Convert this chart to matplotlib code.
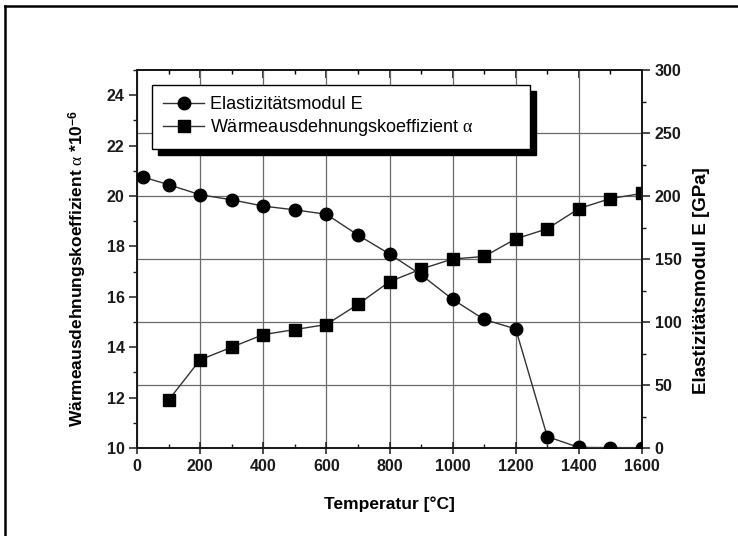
import matplotlib
matplotlib.use("Agg")
import matplotlib.pyplot as plt
from matplotlib.lines import Line2D
from matplotlib.ticker import MultipleLocator
import matplotlib.transforms as mtransforms

# ---- data ----
temp_E = [20, 100, 200, 300, 400, 500, 600, 700, 800, 900, 1000, 1100, 1200, 1300, 1400, 1500, 1600]
E_mod = [215, 209, 201, 197, 192, 189, 185.5, 169, 154, 137.5, 118, 102, 94.5, 9, 0.5, 0.3, 0.3]

temp_a = [100, 200, 300, 400, 500, 600, 700, 800, 900, 1000, 1100, 1200, 1300, 1400, 1500, 1600]
alpha = [11.9, 13.5, 14.0, 14.5, 14.7, 14.9, 15.7, 16.6, 17.1, 17.5, 17.6, 18.3, 18.7, 19.5, 19.9, 20.1]

label_E = "Elastizitätsmodul E"
label_a = r"Wärmeausdehnungskoeffizient $\alpha$"
xlabel = "Temperatur [°C]"
ylabel_left = r"Wärmeausdehnungskoeffizient $\alpha$ *10$^{\mathbf{-6}}$"
ylabel_right = "Elastizitätsmodul E [GPa]"
grid_right_vals = [50, 100, 150, 200, 250]

plt.rcParams['font.family'] = ['Liberation Sans', 'DejaVu Sans']
plt.rcParams['mathtext.fontset'] = 'custom'
plt.rcParams['mathtext.rm'] = 'Liberation Sans'
plt.rcParams['mathtext.it'] = 'Liberation Serif'
plt.rcParams['mathtext.bf'] = 'Liberation Sans:bold'

fig = plt.figure(figsize=(7.38, 5.36), dpi=100)
fig.patch.set_facecolor('white')
ax = fig.add_axes([137/738, 1-448/536, (642-137)/738, (448-70)/536])
ax2 = ax.twinx()

ax.set_xlim(0, 1600)
ax.set_ylim(10, 25)
ax2.set_ylim(0, 300)

# grid (drawn in the lower axes so it stays behind all markers)
gridc = '#6a6a6a'
ax.xaxis.set_major_locator(MultipleLocator(200))
ax.xaxis.set_minor_locator(MultipleLocator(100))
ax.grid(axis='x', which='major', color=gridc, lw=0.9, zorder=0)
blend = mtransforms.blended_transform_factory(ax.transAxes, ax2.transData)
for v in grid_right_vals:
    ax.plot([0, 1], [v, v], transform=blend, color=gridc, lw=0.9, zorder=0.5)

ax.plot(temp_a, alpha, color='#333333', lw=1.0, marker='s', ms=8,
        mfc='black', mec='black', zorder=3)
ax2.plot(temp_E, E_mod, color='#333333', lw=1.0, marker='o', ms=9,
         mfc='black', mec='black', zorder=3)

ax.yaxis.set_major_locator(MultipleLocator(2))
ax.yaxis.set_minor_locator(MultipleLocator(1))
ax2.yaxis.set_major_locator(MultipleLocator(50))
ax2.yaxis.set_minor_locator(MultipleLocator(25))

tickfont = dict(fontsize=11.5, fontweight='bold')
ax.set_yticks(range(10, 25, 2))
ax.set_yticklabels([str(v) for v in range(10, 25, 2)], **tickfont)
ax.set_xticks(range(0, 1601, 200))
ax.set_xticklabels([str(v) for v in range(0, 1601, 200)], **tickfont)
ax2.set_yticks(range(0, 301, 50))
ax2.set_yticklabels([str(v) for v in range(0, 301, 50)], **tickfont)

ax.tick_params(axis='y', which='major', direction='out', length=6, width=1.1, colors='#1a1a1a', pad=3)
ax.tick_params(axis='y', which='minor', direction='out', length=3, width=1.0, colors='#1a1a1a')
ax.tick_params(axis='x', which='major', direction='inout', length=8, width=1.1, colors='#1a1a1a', pad=4)
ax.tick_params(axis='x', which='minor', direction='in', length=3, width=1.0, colors='#1a1a1a')
ax2.tick_params(axis='y', which='major', direction='out', length=6, width=1.1, colors='#1a1a1a', pad=3)
ax2.tick_params(axis='y', which='minor', direction='out', length=3, width=1.0, colors='#1a1a1a')

top = ax.secondary_xaxis('top')
top.xaxis.set_major_locator(MultipleLocator(200))
top.xaxis.set_minor_locator(MultipleLocator(100))
top.tick_params(which='major', direction='in', length=6, width=1.1, labeltop=False)
top.tick_params(which='minor', direction='in', length=3, width=1.0)
top.spines['top'].set_linewidth(1.3)

for a in (ax, ax2):
    for s in a.spines.values():
        s.set_linewidth(1.3)
        s.set_color('#1a1a1a')

ax.set_xlabel(xlabel, fontsize=12.5, fontweight='bold', labelpad=16)
ax.set_ylabel(ylabel_left, fontsize=12.5, fontweight='bold')
ax.yaxis.set_label_coords(-0.095, 0.474)
ax2.set_ylabel(ylabel_right, fontsize=13.5, fontweight='bold')
ax2.yaxis.set_label_coords(1.101, 0.444)

handles = [Line2D([], [], color='#333333', lw=1.0, marker='o', ms=9, mfc='black', mec='black'),
           Line2D([], [], color='#333333', lw=1.0, marker='s', ms=8, mfc='black', mec='black')]
x0 = (152-137)/505
w = (530-152)/505
ytop = (448-85)/378
leg = ax2.legend(handles, [label_E, label_a], loc='upper left',
                 bbox_to_anchor=(x0, ytop - 0.2, w, 0.2), mode='expand', borderaxespad=0,
                 fontsize=13, fancybox=False, frameon=True, edgecolor='black',
                 framealpha=1, handlelength=2.3, handletextpad=0.3,
                 borderpad=0.6, labelspacing=0.25,
                 shadow={'ox': 4, 'oy': -4, 'facecolor': 'black', 'edgecolor': 'black', 'alpha': 1})
leg.get_frame().set_linewidth(1.0)
leg.set_zorder(10)

# outer frame (left and top edges visible)
fig.add_artist(Line2D([5/738, 5/738], [0, 1-6/536], transform=fig.transFigure, color='black', lw=1.8))
fig.add_artist(Line2D([5/738, 1], [1-6/536, 1-6/536], transform=fig.transFigure, color='black', lw=1.8))

fig.savefig('out.png', dpi=100, facecolor='white')
